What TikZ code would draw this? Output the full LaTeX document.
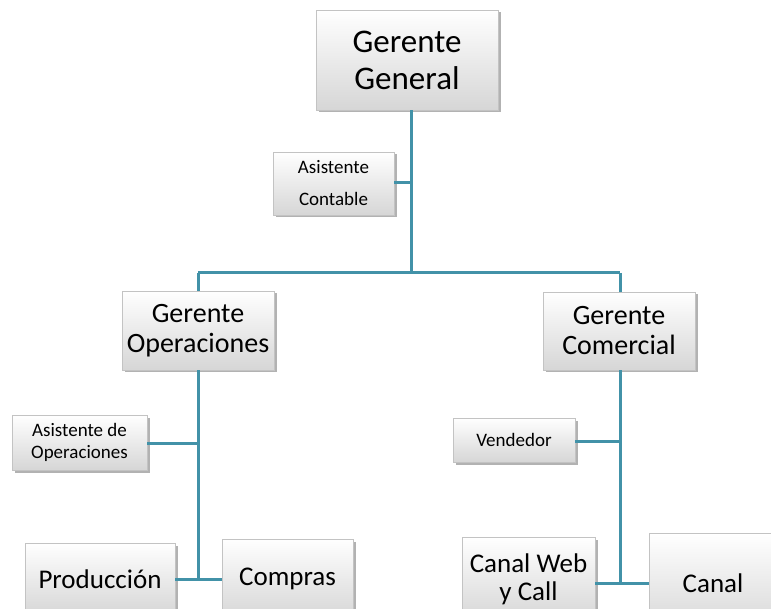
\documentclass[tikz,border=0pt]{standalone}
\usepackage{fontspec}
\setmainfont{Carlito}
\usetikzlibrary{shadows}
\definecolor{linec}{RGB}{66,146,168}
\definecolor{boxbot}{RGB}{214,214,214}
\definecolor{boxline}{RGB}{195,195,195}
\tikzset{
  orgbox/.style={rectangle, draw=boxline, line width=0.6pt, top color=white, bottom color=boxbot,
    drop shadow={shadow xshift=2.5pt, shadow yshift=-2.5pt, opacity=0.3, fill=black},
    align=center, inner sep=0pt, text=black},
  conn/.style={draw=linec, line width=3pt}
}
\begin{document}
\begin{tikzpicture}[x=1pt,y=-1pt]
\useasboundingbox (0,0) rectangle (771,609);
\clip (0,0) rectangle (771,609);
\fill[white] (0,0) rectangle (771,609);
% coordinates for junctions
\coordinate (jtop) at (411,273);
\coordinate (jl) at (198,273);
\coordinate (jr) at (620,273);
\coordinate (jac) at (411,183);
\coordinate (jao) at (198,443);
\coordinate (jpc) at (198,579);
\coordinate (jv) at (620,441);
\coordinate (jcc) at (620,583);
% nodes
\node[orgbox, minimum width=182, minimum height=100, font=\fontsize{33}{37}\selectfont] (gg) at (407,60) {Gerente\\General};
\node[orgbox, minimum width=121, minimum height=63, font=\fontsize{19}{32}\selectfont] (ac) at (333.5,183.5) {Asistente\\Contable};
\node[orgbox, minimum width=152, minimum height=79, font=\fontsize{28}{30}\selectfont] (go) at (198,330.5) {Gerente\\Operaciones};
\node[orgbox, minimum width=152, minimum height=78, font=\fontsize{28}{30}\selectfont] (gc) at (619,331) {Gerente\\Comercial};
\node[orgbox, minimum width=135, minimum height=55, font=\fontsize{19}{22}\selectfont] (ao) at (79.5,442.5) {Asistente de\\Operaciones};
\node[orgbox, minimum width=122, minimum height=44, font=\fontsize{19}{22}\selectfont] (ve) at (514,440) {Vendedor};
\node[orgbox, minimum width=150, minimum height=72, font=\fontsize{27}{28}\selectfont] (pr) at (100,579) {Producción};
\node[orgbox, minimum width=131, minimum height=80, font=\fontsize{27}{28}\selectfont] (co) at (287.5,579) {Compras};
\node[orgbox, minimum width=133, minimum height=84, font=\fontsize{27}{28}\selectfont] (cw) at (528.5,579) {Canal Web\\y Call};
\node[orgbox, minimum width=128, minimum height=100, font=\fontsize{27}{28}\selectfont] (ca) at (713,583) {Canal};
% connectors
\draw[conn] (gg.south -| jtop) -- (jtop);
\draw[conn] (ac.east |- jac) -- (jac);
\draw[conn] (jl) -- (jr);
\draw[conn] (jl) -- (go.north -| jl);
\draw[conn] (jr) -- (gc.north -| jr);
\draw[conn] (go.south -| jl) -- (jpc);
\draw[conn] (ao.east |- jao) -- (jao);
\draw[conn] (pr.east |- jpc) -- (co.west |- jpc);
\draw[conn] (gc.south -| jr) -- (jcc);
\draw[conn] (ve.east |- jv) -- (jv);
\draw[conn] (cw.east |- jcc) -- (ca.west |- jcc);
\end{tikzpicture}
\end{document}
